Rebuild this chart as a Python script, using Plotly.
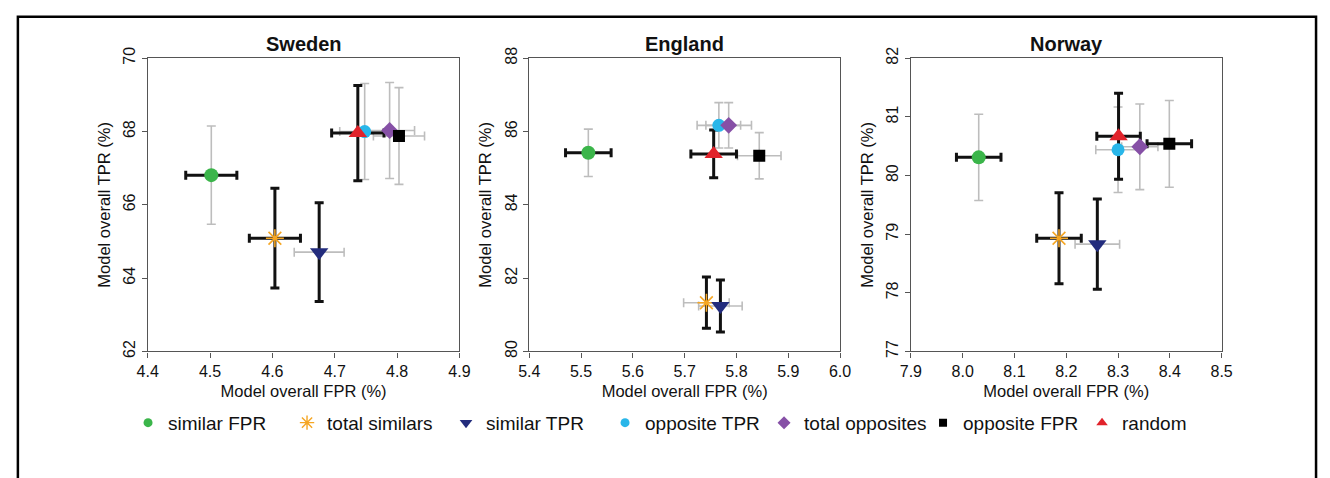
import plotly.graph_objects as go

# ---------------- data ----------------
series_names = ["similar FPR", "total similars", "similar TPR", "opposite TPR",
                "total opposites", "opposite FPR", "random"]

countries = ["Sweden", "England", "Norway"]

sweden_fpr = [4.502, 4.604, 4.675, 4.748, 4.788, 4.803, 4.737]
sweden_fpr_err = [0.041, 0.041, 0.040, 0.040, 0.040, 0.041, 0.042]
sweden_tpr = [66.81, 65.09, 64.71, 68.00, 68.03, 67.88, 67.96]
sweden_tpr_err = [1.34, 1.36, 1.35, 1.31, 1.31, 1.32, 1.30]
sweden_sig_x = [1, 1, 0, 0, 0, 0, 1]
sweden_sig_y = [0, 1, 1, 0, 0, 0, 1]

england_fpr = [5.514, 5.742, 5.769, 5.766, 5.785, 5.844, 5.756]
england_fpr_err = [0.044, 0.044, 0.042, 0.042, 0.044, 0.042, 0.044]
england_tpr = [85.42, 81.33, 81.24, 86.17, 86.17, 85.34, 85.39]
england_tpr_err = [0.645, 0.70, 0.71, 0.62, 0.62, 0.63, 0.65]
england_sig_x = [1, 0, 0, 0, 0, 0, 1]
england_sig_y = [0, 1, 1, 0, 0, 0, 1]

norway_fpr = [8.031, 8.186, 8.260, 8.300, 8.342, 8.399, 8.301]
norway_fpr_err = [0.043, 0.043, 0.043, 0.043, 0.035, 0.043, 0.042]
norway_tpr = [80.31, 78.93, 78.83, 80.44, 80.49, 80.54, 80.67]
norway_tpr_err = [0.735, 0.775, 0.77, 0.73, 0.73, 0.74, 0.735]
norway_sig_x = [1, 1, 0, 0, 0, 1, 1]
norway_sig_y = [0, 1, 1, 0, 0, 0, 1]

x_ranges = [[4.4, 4.9], [5.4, 6.0], [7.9, 8.5]]
y_ranges = [[62, 70], [80, 88], [77, 82]]
y_dticks = [2, 2, 1]

# ---------------- styles ----------------
colors = ["#3BB54A", "#F5A623", "#232C7D", "#29B6E9", "#8650A6", "#000000", "#E1232B"]
symbols = ["circle", "asterisk-open", "triangle-down", "circle", "diamond", "square", "triangle-up"]
sizes = [14, 15, 16, 13, 13, 12, 16]
legend_sizes = [9, 12, 11, 9, 10, 8, 10]

FONT = "Liberation Sans, Arial, sans-serif"
W, H = 1330, 478
x_px = [(139, 456), (527, 843), (915, 1231)]
y_px = (49, 353)

data_sets = [
    (sweden_fpr, sweden_fpr_err, sweden_tpr, sweden_tpr_err, sweden_sig_x, sweden_sig_y),
    (england_fpr, england_fpr_err, england_tpr, england_tpr_err, england_sig_x, england_sig_y),
    (norway_fpr, norway_fpr_err, norway_tpr, norway_tpr_err, norway_sig_x, norway_sig_y),
]

fig = go.Figure()

GRAY = "#BDBDBD"
BLACK = "#111111"

# pass 0: gray error bars, pass 1: black error bars
for pass_black in (0, 1):
    for ci, (fx, fxe, ty, tye, sx, sy) in enumerate(data_sets):
        xa = "x" if ci == 0 else f"x{ci+1}"
        ya = "y" if ci == 0 else f"y{ci+1}"
        for si in range(len(series_names)):
            show_x = (sx[si] == 1) == bool(pass_black)
            show_y = (sy[si] == 1) == bool(pass_black)
            col = BLACK if pass_black else GRAY
            thick = 3.0 if pass_black else 1.6
            fig.add_trace(go.Scatter(
                x=[fx[si]], y=[ty[si]], xaxis=xa, yaxis=ya,
                mode="markers", marker=dict(size=2, opacity=0),
                error_x=dict(type="data", array=[fxe[si]], visible=show_x,
                             color=col, thickness=thick, width=4.5),
                error_y=dict(type="data", array=[tye[si]], visible=show_y,
                             color=col, thickness=thick, width=4.5),
                showlegend=False, hoverinfo="skip",
            ))

# markers
for ci, (fx, fxe, ty, tye, sx, sy) in enumerate(data_sets):
    xa = "x" if ci == 0 else f"x{ci+1}"
    ya = "y" if ci == 0 else f"y{ci+1}"
    for si, name in enumerate(series_names):
        if symbols[si] == "asterisk-open":
            mk = dict(symbol="asterisk-open", size=sizes[si],
                      line=dict(color=colors[si], width=1.6), color=colors[si])
        else:
            mk = dict(symbol=symbols[si], size=sizes[si], color=colors[si],
                      line=dict(width=0))
        fig.add_trace(go.Scatter(
            x=[fx[si]], y=[ty[si]], xaxis=xa, yaxis=ya, mode="markers",
            marker=mk, name=name, legendgroup=name, showlegend=False,
        ))

# legend-only entries
for si, name in enumerate(series_names):
    if symbols[si] == "asterisk-open":
        mk = dict(symbol="asterisk-open", size=legend_sizes[si],
                  line=dict(color=colors[si], width=1.4), color=colors[si])
    else:
        mk = dict(symbol=symbols[si], size=legend_sizes[si], color=colors[si],
                  line=dict(width=0))
    fig.add_trace(go.Scatter(x=[None], y=[None], mode="markers", marker=mk,
                             name=name, legendgroup=name, showlegend=True))

axis_common = dict(
    showline=True, mirror=True, linecolor="#555555", linewidth=1.3,
    ticks="outside", ticklen=5, tickcolor="#555555", tickwidth=1.2,
    showgrid=False, zeroline=False,
    tickfont=dict(family=FONT, size=16, color="#111111"),
)

layout = dict(
    width=W, height=H,
    margin=dict(l=0, r=0, t=0, b=0),
    paper_bgcolor="white", plot_bgcolor="white",
    font=dict(family=FONT, color="#111111"),
    legend=dict(orientation="h", x=(141 - 22) / W, xanchor="left",
                y=1 - 427 / H, yanchor="middle",
                font=dict(family=FONT, size=19, color="#111111"),
                entrywidth=114, entrywidthmode="pixels",
                itemsizing="trace", bgcolor="rgba(0,0,0,0)"),
    annotations=[],
    shapes=[dict(type="rect", xref="paper", yref="paper",
                 x0=7 / W, x1=1327 / W, y0=-0.05, y1=1 - 6 / H,
                 line=dict(color="#000000", width=2.5))],
)

for ci in range(3):
    sfx = "" if ci == 0 else str(ci + 1)
    x0, x1 = x_px[ci]
    layout[f"xaxis{sfx}"] = dict(
        axis_common, domain=[x0 / W, x1 / W], range=x_ranges[ci], dtick=0.1,
        tickformat=".1f", anchor=f"y{sfx}",
        title=dict(text="Model overall FPR (%)",
                   font=dict(family=FONT, size=16.5, color="#111111"), standoff=6),
    )
    layout[f"yaxis{sfx}"] = dict(
        axis_common, domain=[1 - y_px[1] / H, 1 - y_px[0] / H], range=y_ranges[ci],
        dtick=y_dticks[ci], tickangle=-90, anchor=f"x{sfx}",
        title=dict(text="Model overall TPR (%)",
                   font=dict(family=FONT, size=16.5, color="#111111"), standoff=6),
    )
    layout["annotations"].append(dict(
        text=f"<b>{countries[ci]}</b>", xref="paper", yref="paper",
        x=(x0 + x1) / 2 / W, y=1 - 34 / H, xanchor="center", yanchor="middle",
        showarrow=False, font=dict(family=FONT, size=20, color="#111111"),
    ))

fig.update_layout(**layout)
fig.write_html(
    "out.html",
    config={"displayModeBar": False},
    post_script="document.body.style.margin='0';document.body.style.overflow='hidden';",
)
